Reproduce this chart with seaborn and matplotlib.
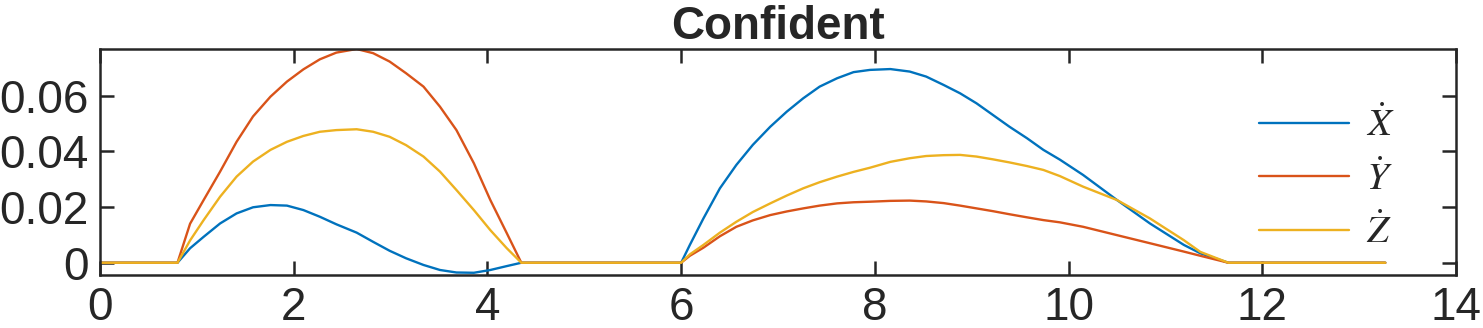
import numpy as np
import pandas as pd
import matplotlib
matplotlib.use("Agg")
import matplotlib.pyplot as plt
import seaborn as sns

# ---- data ----
t = [0.0, 0.8, 0.93, 1.07, 1.24, 1.41, 1.58, 1.76, 1.93, 2.10, 2.27, 2.44, 2.65,
     2.82, 2.99, 3.16, 3.34, 3.51, 3.68, 3.86, 4.03, 4.20, 4.35,
     6.0, 6.09, 6.23, 6.40, 6.57, 6.74, 6.92, 7.09, 7.26, 7.43, 7.61, 7.78, 7.95,
     8.16, 8.36, 8.53, 8.71, 8.88, 9.05, 9.22, 9.39, 9.57, 9.74, 9.91, 10.15,
     10.50, 10.84, 11.19, 11.36, 11.65, 13.27]

x_dot = [0, 0, 0.0052, 0.0093, 0.0141, 0.0177, 0.0199, 0.0207, 0.0205, 0.0189, 0.0165, 0.0138, 0.0108,
         0.0075, 0.0043, 0.0016, -0.0008, -0.0026, -0.0035, -0.0036, -0.0026, -0.0012, 0,
         0, 0.0064, 0.0159, 0.0267, 0.0351, 0.0423, 0.0488, 0.0542, 0.0590, 0.0632, 0.0662, 0.0684, 0.0692,
         0.0695, 0.0686, 0.0668, 0.0638, 0.0608, 0.0572, 0.0530, 0.0488, 0.0447, 0.0405, 0.0370, 0.0315,
         0.0225, 0.0141, 0.0064, 0.0034, 0, 0]

y_dot = [0, 0, 0.0140, 0.0225, 0.0327, 0.0434, 0.0525, 0.0596, 0.0650, 0.0694, 0.0730, 0.0754, 0.0767,
         0.0752, 0.0722, 0.0680, 0.0632, 0.0560, 0.0476, 0.0357, 0.0225, 0.0106, 0,
         0, 0.0025, 0.0054, 0.0095, 0.0129, 0.0152, 0.0171, 0.0184, 0.0195, 0.0205, 0.0213, 0.0217, 0.0219,
         0.0222, 0.0223, 0.0220, 0.0214, 0.0205, 0.0195, 0.0185, 0.0174, 0.0163, 0.0153, 0.0145, 0.0129,
         0.0099, 0.0070, 0.0040, 0.0025, 0, 0]

z_dot = [0, 0, 0.0080, 0.0153, 0.0237, 0.0309, 0.0363, 0.0405, 0.0434, 0.0455, 0.0470, 0.0476, 0.0479,
         0.0470, 0.0452, 0.0422, 0.0381, 0.0327, 0.0261, 0.0189, 0.0117, 0.0052, 0,
         0, 0.0030, 0.0064, 0.0108, 0.0147, 0.0182, 0.0213, 0.0241, 0.0267, 0.0289, 0.0309, 0.0326, 0.0341,
         0.0362, 0.0375, 0.0383, 0.0386, 0.0387, 0.0381, 0.0371, 0.0360, 0.0347, 0.0333, 0.0311, 0.0273,
         0.0225, 0.0159, 0.0081, 0.0039, 0, 0]

labels = [r'$\dot{X}$', r'$\dot{Y}$', r'$\dot{Z}$']
colors = ['#0072BD', '#D95319', '#EDB120']
xticks = [0, 2, 4, 6, 8, 10, 12, 14]
yticks = [0, 0.02, 0.04, 0.06]
yticklabels = ['0', '0.02', '0.04', '0.06']
title = 'Confident'

# ---- style ----
sns.set_theme(style='ticks')
plt.rcParams['font.family'] = ['Liberation Sans', 'DejaVu Sans']
plt.rcParams['mathtext.fontset'] = 'stix'

dark = '#262626'
fig = plt.figure(figsize=(14.83, 3.28), dpi=100)
ax = fig.add_axes([100 / 1483, 1 - 275 / 328, 1356 / 1483, 226 / 328])

df = pd.DataFrame({'t': t, 'X': x_dot, 'Y': y_dot, 'Z': z_dot})
for col, lab, c in zip(['X', 'Y', 'Z'], labels, colors):
    sns.lineplot(data=df, x='t', y=col, ax=ax, color=c, label=lab,
                 linewidth=1.7, estimator=None, sort=False)

ax.set_xlim(0, 14)
ax.set_ylim(-0.0044, 0.0767)
ax.set_xticks(xticks)
ax.set_xticklabels([str(v) for v in xticks])
ax.set_yticks(yticks)
ax.set_yticklabels(yticklabels)
ax.set_xlabel('')
ax.set_ylabel('')

for s in ax.spines.values():
    s.set_visible(True)
    s.set_color(dark)
    s.set_linewidth(1.8)

ax.tick_params(axis='both', which='both', direction='in', length=10, width=1.8,
               colors=dark, labelsize=33, top=True, right=True, labelcolor=dark)
ax.tick_params(axis='x', pad=8)
ax.tick_params(axis='y', pad=8)

ax.set_title(title, fontsize=33, fontweight='bold', color=dark, pad=6)

leg = ax.legend(loc='center left', bbox_to_anchor=(0.855, 0.425), frameon=False,
                fontsize=28, handlelength=2.3, handletextpad=0.45, labelspacing=0.4,
                borderpad=0, borderaxespad=0)
for txt in leg.get_texts():
    txt.set_color(dark)

fig.savefig('out.png', dpi=100)
